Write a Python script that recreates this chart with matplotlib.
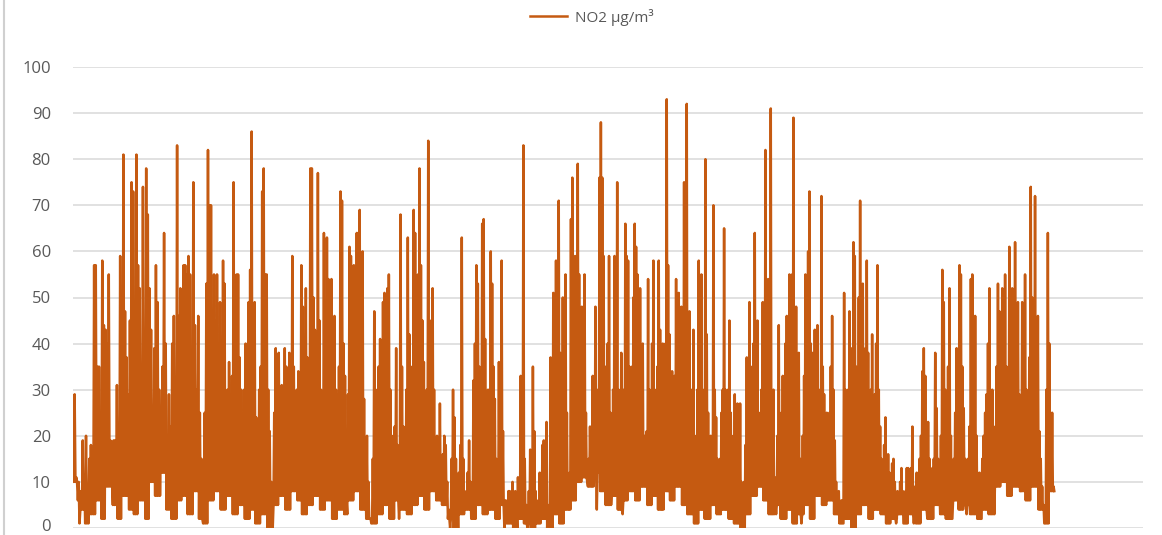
import numpy as np
import matplotlib.pyplot as plt
import matplotlib.transforms as mtransforms
from matplotlib.lines import Line2D

highs_1 = [23, 29, 11, 6, 1, 8, 19, 10, 20, 6, 15, 18, 8, 57, 57, 35, 35, 20, 58, 44,
           43, 40, 55, 19, 10, 19, 19, 31, 19, 59, 45, 81, 47, 37, 29, 45, 75, 73, 40, 81,
           57, 52, 35, 74, 42, 78, 68, 52, 43, 25, 39, 57, 49, 30, 21, 35, 64, 40, 20, 29,
           22, 40, 46, 30, 83, 46, 52, 49, 57, 57, 55, 59, 55, 30, 75, 44, 30, 46, 25, 15,
           1, 25, 53]
highs_2 = [82, 70, 70, 40, 55, 45, 55, 40, 49, 35, 58, 53, 24, 30, 36, 20, 33, 75, 45, 55,
           55, 37, 30, 23, 30, 40, 30, 49, 56, 86, 39, 49, 24, 15, 30, 35, 73, 78, 55, 55,
           30, 21, 10, 0, 25, 39, 20, 38, 25, 31, 20, 39, 35, 25, 38, 30, 59, 35, 25, 30,
           34, 25, 57, 48, 35, 52, 37, 30, 78, 78, 50, 43, 30, 77, 45, 30, 24, 64, 45, 63,
           54, 40, 54, 35, 46, 30, 29, 35, 73, 71, 40, 33, 6]
highs_3 = [29, 61, 59, 40, 57, 35, 64, 64, 69, 45, 60, 28, 13, 20, 10, 2, 1, 15, 47, 30,
           25, 35, 41, 30, 49, 51, 35, 52, 55, 30, 15, 20, 22, 39, 18, 2, 68, 35, 22, 20,
           30, 63, 42, 35, 29, 69, 64, 40, 55, 78, 57, 45, 36, 18, 30, 84, 38, 45, 52, 30,
           16, 20, 15, 27, 15, 16, 20, 18, 10, 4, 0, 15, 30, 24, 15, 9, 12, 18, 63, 15,
           8, 4, 12, 19, 10, 4, 32, 40, 57, 53, 35, 25, 66, 67, 41, 25]
highs_4 = [30, 8, 60, 53, 35, 28, 15, 4, 36, 30, 58, 21, 0, 6, 4, 8, 8, 4, 10, 3,
           8, 5, 11, 6, 33, 20, 83, 15, 5, 0, 8, 17, 10, 35, 21, 8, 1, 6, 12, 8,
           18, 19, 10, 23, 5, 0, 37, 30, 51, 40, 58, 45, 71, 38, 30, 50, 35, 55, 25, 9,
           12, 67, 76, 45, 59, 40, 79, 55, 40, 48, 35, 55, 25, 10, 15, 22, 15, 33, 25, 48,
           4, 30, 76, 88, 76, 59, 35, 21, 40, 59, 25, 8, 30, 59, 45, 75, 30, 12, 38, 3,
           30, 66, 59]
highs_5 = [58, 35, 24, 35, 50, 66, 61, 55, 40, 52, 35, 40, 20, 11, 21, 54, 30, 29, 40, 58,
           30, 24, 35, 58, 43, 35, 40, 31, 40, 93, 57, 42, 30, 34, 25, 33, 54, 35, 51, 30,
           48, 35, 75, 49, 92, 40, 47, 24, 30, 43, 20, 1, 30, 58, 40, 55, 30, 22, 80, 42,
           25, 15, 20, 8, 70, 30, 24, 15, 5, 15, 25, 30, 65, 30, 24, 30, 45, 25, 11, 20,
           29, 15, 27, 15, 27, 10, 0, 10, 18, 37, 30, 49, 35, 29, 40, 64, 40, 45, 25, 14,
           30, 49, 40, 82, 52]
highs_6 = [54, 20, 91, 18, 30, 11, 3, 20, 44, 17, 25, 33, 25, 40, 46, 30, 55, 40, 55, 89,
           40, 48, 30, 38, 15, 1, 20, 33, 55, 52, 60, 73, 40, 38, 30, 43, 35, 44, 30, 29,
           72, 35, 29, 18, 25, 15, 25, 35, 46, 30, 19, 10, 3, 8, 4, 6, 1, 51, 30, 15,
           30, 47, 30, 39, 62, 59, 35, 19, 50, 71, 45, 53, 35, 39, 58, 38, 18, 30, 42, 25,
           29, 40, 57, 30, 22, 15, 12, 18, 24, 15, 16, 12, 10, 14, 15, 10, 1, 8, 3, 10,
           13, 8, 1, 8, 13]
highs_7 = [13, 8, 13, 22, 1, 9, 12, 7, 15, 20, 34, 39, 33, 4, 23, 15, 2, 13, 15, 38,
           26, 15, 8, 20, 56, 49, 30, 20, 35, 52, 20, 2, 15, 25, 39, 30, 57, 55, 35, 26,
           15, 3, 15, 22, 54, 55, 40, 46, 20, 8, 12, 2, 15, 20, 25, 29, 40, 52, 25, 30,
           22, 12, 35, 53, 47, 30, 52, 40, 55, 35, 9, 61, 40, 52, 35, 62, 40, 49, 29, 8,
           49, 35, 55, 30, 20, 37, 74, 50, 37, 72, 45, 46, 21, 15, 9, 5, 1, 30, 64, 40,
           9, 25, 9]

# low levels between the highs, read along the bottom edge of each block
lows_1 = [10, 4, 1, 3, 6, 2, 9, 5, 2, 7, 4, 3, 6, 2, 10, 7, 12, 4, 2, 6, 7, 3, 8, 2, 1]
lows_2 = [6, 8, 4, 7, 3, 5, 2, 4, 1, 3, 0, 5, 7, 4, 8, 6, 3, 5, 7, 4, 6, 2, 4, 3]
lows_3 = [6, 8, 4, 2, 1, 3, 5, 2, 6, 4, 3, 5, 7, 4, 8, 6, 5, 2, 0, 3, 4, 2, 5, 3]
lows_4 = [4, 2, 5, 1, 0, 2, 1, 0, 1, 2, 0, 3, 1, 4, 6, 10, 11, 9, 12, 8, 5, 7, 4, 6]
lows_5 = [8, 6, 9, 5, 7, 4, 8, 6, 9, 5, 3, 1, 4, 2, 5, 3, 4, 2, 1, 0, 3, 7, 9, 6]
lows_6 = [3, 5, 2, 4, 1, 3, 5, 2, 7, 5, 6, 3, 1, 2, 0, 3, 5, 2, 4, 3, 1, 2, 3, 1]
lows_7 = [3, 1, 4, 2, 5, 3, 2, 6, 4, 5, 3, 2, 4, 3, 9, 10, 7, 9, 8, 6, 9, 4, 1, 8]

block_hours = [1204, 1249, 1249, 1249, 1249, 1249, 1310]

highs = [highs_1, highs_2, highs_3, highs_4, highs_5, highs_6, highs_7]
lows = [lows_1, lows_2, lows_3, lows_4, lows_5, lows_6, lows_7]


def build_series():
    xs = []
    ys = []
    t0 = 0
    for hi, lo, hours in zip(highs, lows, block_hours):
        n = len(hi)
        step = hours / n
        for i, v in enumerate(hi):
            xs.append(t0 + i * step)
            ys.append(v)
            xs.append(t0 + (i + 0.5) * step)
            ys.append(lo[i * len(lo) // n])
        t0 += hours
    return np.array(xs), np.array(ys), t0


def main():
    x, y, total = build_series()
    fig = plt.figure(figsize=(11.62, 5.35), dpi=100)
    ax = fig.add_axes([73 / 1162, 1 - 528 / 535, 1070 / 1162, 461 / 535])
    ax.plot(x, y, color='#C55A11', linewidth=1.8, label='NO2 µg/m³')
    ax.set_xlim(0, total * 1070 / 982)
    ax.set_ylim(0, 100)
    ax.set_yticks(range(0, 101, 10))
    ax.set_xticks([])
    ax.grid(axis='y', color='#d9d9d9', linewidth=1.1)
    ax.set_axisbelow(True)
    for s in ax.spines.values():
        s.set_visible(False)
    ax.tick_params(axis='y', length=0, pad=16, labelsize=12, labelcolor='#595959')
    for lab in ax.get_yticklabels():
        lab.set_fontfamily('Open Sans')
    # keep the "0" label inside the picture
    zero = ax.get_yticklabels()[0]
    zero.set_transform(zero.get_transform() + mtransforms.ScaledTranslation(0, 2 / 72, fig.dpi_scale_trans))
    leg = fig.legend(loc='center', bbox_to_anchor=(592 / 1162, 1 - 17 / 535), frameon=False,
                     prop={'family': 'Open Sans', 'size': 11}, handlelength=2.4,
                     handletextpad=0.5)
    for t in leg.get_texts():
        t.set_color('#595959')
    fig.add_artist(Line2D([4 / 1162, 4 / 1162], [0, 1], color='#d0d0d0', linewidth=1.5))
    fig.savefig('out.png', dpi=100)


if __name__ == "__main__":
    main()
